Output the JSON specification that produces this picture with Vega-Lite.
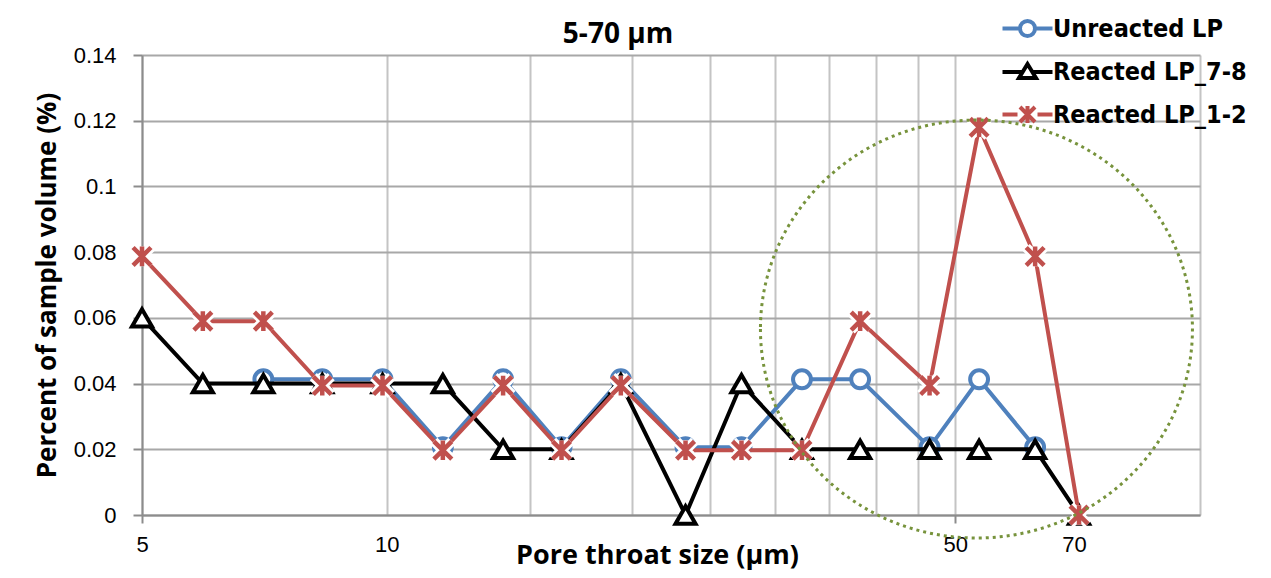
{
  "$schema": "https://vega.github.io/schema/vega-lite/v6.json",
  "width": 1058,
  "height": 460,
  "autosize": "none",
  "padding": {"left": 142, "top": 55, "right": 71, "bottom": 63},
  "background": "white",
  "config": {"view": {"stroke": null}, "font": "Open Sans"},
  "title": {"text": "5-70 µm", "font": "Open Sans", "fontWeight": "bold", "fontSize": 28, "color": "black", "anchor": "middle", "dx": -53, "dy": 47, "offset": 14},
  "datasets": {
    "pore": [
      {"series": "Unreacted LP", "size": 7.05, "pct": 0.0413},
      {"series": "Unreacted LP", "size": 8.33, "pct": 0.0413},
      {"series": "Unreacted LP", "size": 9.88, "pct": 0.0413},
      {"series": "Unreacted LP", "size": 11.72, "pct": 0.0206},
      {"series": "Unreacted LP", "size": 13.9, "pct": 0.0413},
      {"series": "Unreacted LP", "size": 16.4, "pct": 0.0206},
      {"series": "Unreacted LP", "size": 19.4, "pct": 0.0413},
      {"series": "Unreacted LP", "size": 23.3, "pct": 0.0206},
      {"series": "Unreacted LP", "size": 27.3, "pct": 0.0206},
      {"series": "Unreacted LP", "size": 32.4, "pct": 0.0413},
      {"series": "Unreacted LP", "size": 38.2, "pct": 0.0413},
      {"series": "Unreacted LP", "size": 46.5, "pct": 0.0206},
      {"series": "Unreacted LP", "size": 53.5, "pct": 0.0413},
      {"series": "Unreacted LP", "size": 62.7, "pct": 0.0206},
      {"series": "Reacted LP_7-8", "size": 5, "pct": 0.06},
      {"series": "Reacted LP_7-8", "size": 5.94, "pct": 0.04},
      {"series": "Reacted LP_7-8", "size": 7.05, "pct": 0.04},
      {"series": "Reacted LP_7-8", "size": 8.33, "pct": 0.04},
      {"series": "Reacted LP_7-8", "size": 9.88, "pct": 0.04},
      {"series": "Reacted LP_7-8", "size": 11.72, "pct": 0.04},
      {"series": "Reacted LP_7-8", "size": 13.9, "pct": 0.02},
      {"series": "Reacted LP_7-8", "size": 16.4, "pct": 0.02},
      {"series": "Reacted LP_7-8", "size": 19.4, "pct": 0.04},
      {"series": "Reacted LP_7-8", "size": 23.3, "pct": 0},
      {"series": "Reacted LP_7-8", "size": 27.3, "pct": 0.04},
      {"series": "Reacted LP_7-8", "size": 32.4, "pct": 0.02},
      {"series": "Reacted LP_7-8", "size": 38.2, "pct": 0.02},
      {"series": "Reacted LP_7-8", "size": 46.5, "pct": 0.02},
      {"series": "Reacted LP_7-8", "size": 53.5, "pct": 0.02},
      {"series": "Reacted LP_7-8", "size": 62.7, "pct": 0.02},
      {"series": "Reacted LP_7-8", "size": 71, "pct": 0},
      {"series": "Reacted LP_1-2", "size": 5, "pct": 0.0787},
      {"series": "Reacted LP_1-2", "size": 5.94, "pct": 0.059},
      {"series": "Reacted LP_1-2", "size": 7.05, "pct": 0.059},
      {"series": "Reacted LP_1-2", "size": 8.33, "pct": 0.0394},
      {"series": "Reacted LP_1-2", "size": 9.88, "pct": 0.0394},
      {"series": "Reacted LP_1-2", "size": 11.72, "pct": 0.0197},
      {"series": "Reacted LP_1-2", "size": 13.9, "pct": 0.0394},
      {"series": "Reacted LP_1-2", "size": 16.4, "pct": 0.0197},
      {"series": "Reacted LP_1-2", "size": 19.4, "pct": 0.0394},
      {"series": "Reacted LP_1-2", "size": 23.3, "pct": 0.0197},
      {"series": "Reacted LP_1-2", "size": 27.3, "pct": 0.0197},
      {"series": "Reacted LP_1-2", "size": 32.4, "pct": 0.0197},
      {"series": "Reacted LP_1-2", "size": 38.2, "pct": 0.059},
      {"series": "Reacted LP_1-2", "size": 46.5, "pct": 0.0394},
      {"series": "Reacted LP_1-2", "size": 53.5, "pct": 0.118},
      {"series": "Reacted LP_1-2", "size": 62.7, "pct": 0.0787},
      {"series": "Reacted LP_1-2", "size": 71, "pct": 0}
    ],
    "highlight": [
      {"size": 53.1, "pct": 0.0566}
    ]
  },
  "data": {"name": "pore"},
  "encoding": {
    "x": {
      "field": "size", "type": "quantitative",
      "scale": {"type": "log", "domain": [5, 100]},
      "axis": {
        "values": [5, 10, 15, 20, 25, 30, 35, 40, 45, 50, 70, 100],
        "labelExpr": "indexof([5, 10, 50, 70], datum.value) >= 0 ? '' + datum.value : ''",
        "grid": true,
        "gridColor": "#c4c4c4",
        "gridWidth": 2,
        "gridOpacity": {"condition": {"test": "datum.value == 70", "value": 0}, "value": 1},
        "tickOpacity": {"condition": {"test": "datum.value == 5 || datum.value == 50 || datum.value == 70", "value": 1}, "value": 0},
        "domainColor": "#8c8c8c",
        "domainWidth": 2,
        "tickColor": "#8c8c8c",
        "tickWidth": 2,
        "tickSize": 8,
        "labelFont": "Liberation Sans",
        "labelFontSize": 22,
        "labelColor": "black",
        "labelPadding": 11,
        "labelFlush": false,
        "title": "Pore throat size (µm)",
        "titleFont": "Open Sans",
        "titleFontWeight": "bold",
        "titleFontSize": 27,
        "titleColor": "black",
        "titleX": 515,
        "titleY": 48,
        "titleAlign": "center",
        "titleBaseline": "alphabetic"
      }
    },
    "y": {
      "field": "pct", "type": "quantitative",
      "scale": {"domain": [0, 0.14]},
      "axis": {
        "values": [0, 0.02, 0.04, 0.06, 0.08, 0.1, 0.12, 0.14],
        "format": "~g",
        "grid": true,
        "gridColor": "#a8a8a8",
        "gridWidth": 2,
        "domainColor": "#8c8c8c",
        "domainWidth": 2,
        "tickColor": "#8c8c8c",
        "tickWidth": 2,
        "tickSize": 9,
        "labelFont": "Liberation Sans",
        "labelFontSize": 22,
        "labelColor": "black",
        "labelPadding": 17,
        "title": "Percent of sample volume (%)",
        "titleFont": "Open Sans",
        "titleFontWeight": "bold",
        "titleFontSize": 26,
        "titleColor": "black",
        "titlePadding": 13
      }
    }
  },
  "layer": [
    {
      "transform": [{"filter": "datum.series == 'Unreacted LP'"}],
      "mark": {"type": "line", "strokeWidth": 4},
      "encoding": {
        "color": {
          "field": "series", "type": "nominal",
          "scale": {"domain": ["Unreacted LP", "Reacted LP_7-8", "Reacted LP_1-2"], "range": ["#4f81bd", "#000000", "#c0504d"]},
          "legend": {
            "orient": "none",
            "legendX": 873,
            "legendY": -39,
            "title": null,
            "padding": 0,
            "labelFont": "DejaVu Sans Condensed",
            "labelFontWeight": "bold",
            "labelFontSize": 25,
            "labelColor": "black",
            "labelLimit": 0,
            "symbolSize": 400,
            "symbolStrokeWidth": 4,
            "labelOffset": 13,
            "rowPadding": 11.5,
            "encode": {
              "symbols": {
                "update": {
                  "shape": {"signal": "datum.value === 'Unreacted LP' ? 'M -2.5 0 L -0.75 0 M 0.75 0 L 2.5 0 M -0.75 0 A 0.75 0.75 0 1 1 0.75 0 A 0.75 0.75 0 1 1 -0.75 0 Z' : datum.value === 'Reacted LP_7-8' ? 'M -2.5 0 L -0.45 0 M 0.45 0 L 2.5 0 M 0 -0.8 L -0.85 0.6 L 0.85 0.6 Z' : 'M -2.5 0 L -1 0 M 1 0 L 2.5 0 M -0.75 -0.75 L 0.75 0.75 M -0.75 0.75 L 0.75 -0.75 M 0 -0.85 L 0 0.85'"},
                  "fill": {"value": "white"},
                  "fillOpacity": {"value": 1},
                  "stroke": {"signal": "datum.value === 'Unreacted LP' ? '#4f81bd' : datum.value === 'Reacted LP_7-8' ? '#000000' : '#c0504d'"},
                  "strokeWidth": {"value": 4},
                  "opacity": {"value": 1}
                }
              }
            }
          }
        }
      }
    },
    {
      "transform": [{"filter": "datum.series == 'Unreacted LP'"}],
      "mark": {"type": "point", "shape": "circle", "size": 320, "fill": "white", "stroke": "#4f81bd", "strokeWidth": 4, "opacity": 1, "fillOpacity": 1}
    },
    {
      "transform": [{"filter": "datum.series == 'Reacted LP_7-8'"}],
      "mark": {"type": "line", "strokeWidth": 4},
      "encoding": {"color": {"field": "series", "type": "nominal"}}
    },
    {
      "transform": [{"filter": "datum.series == 'Reacted LP_7-8'"}],
      "mark": {"type": "point", "shape": "triangle-up", "size": 400, "fill": "white", "stroke": "#000000", "strokeWidth": 4, "opacity": 1, "fillOpacity": 1}
    },
    {
      "transform": [{"filter": "datum.series == 'Reacted LP_1-2'"}],
      "mark": {"type": "line", "strokeWidth": 4},
      "encoding": {"color": {"field": "series", "type": "nominal"}}
    },
    {
      "transform": [{"filter": "datum.series == 'Reacted LP_1-2'"}],
      "mark": {"type": "point", "shape": "M -1 -1 L 1 1 M -1 1 L 1 -1 M 0 -1.1 L 0 1.1", "size": 320, "filled": false, "stroke": "white", "strokeWidth": 10, "opacity": 1}
    },
    {
      "transform": [{"filter": "datum.series == 'Reacted LP_1-2'"}],
      "mark": {"type": "point", "shape": "M -1 -1 L 1 1 M -1 1 L 1 -1 M 0 -1.1 L 0 1.1", "size": 320, "filled": false, "stroke": "#c0504d", "strokeWidth": 4.5, "opacity": 1}
    },
    {
      "data": {"name": "highlight"},
      "mark": {"type": "point", "shape": "M -1 0 A 1 0.9676 0 1 0 1 0 A 1 0.9676 0 1 0 -1 0", "size": 186624, "filled": false, "stroke": "#77933c", "strokeWidth": 3, "strokeDash": [3, 4], "opacity": 1}
    }
  ]
}
